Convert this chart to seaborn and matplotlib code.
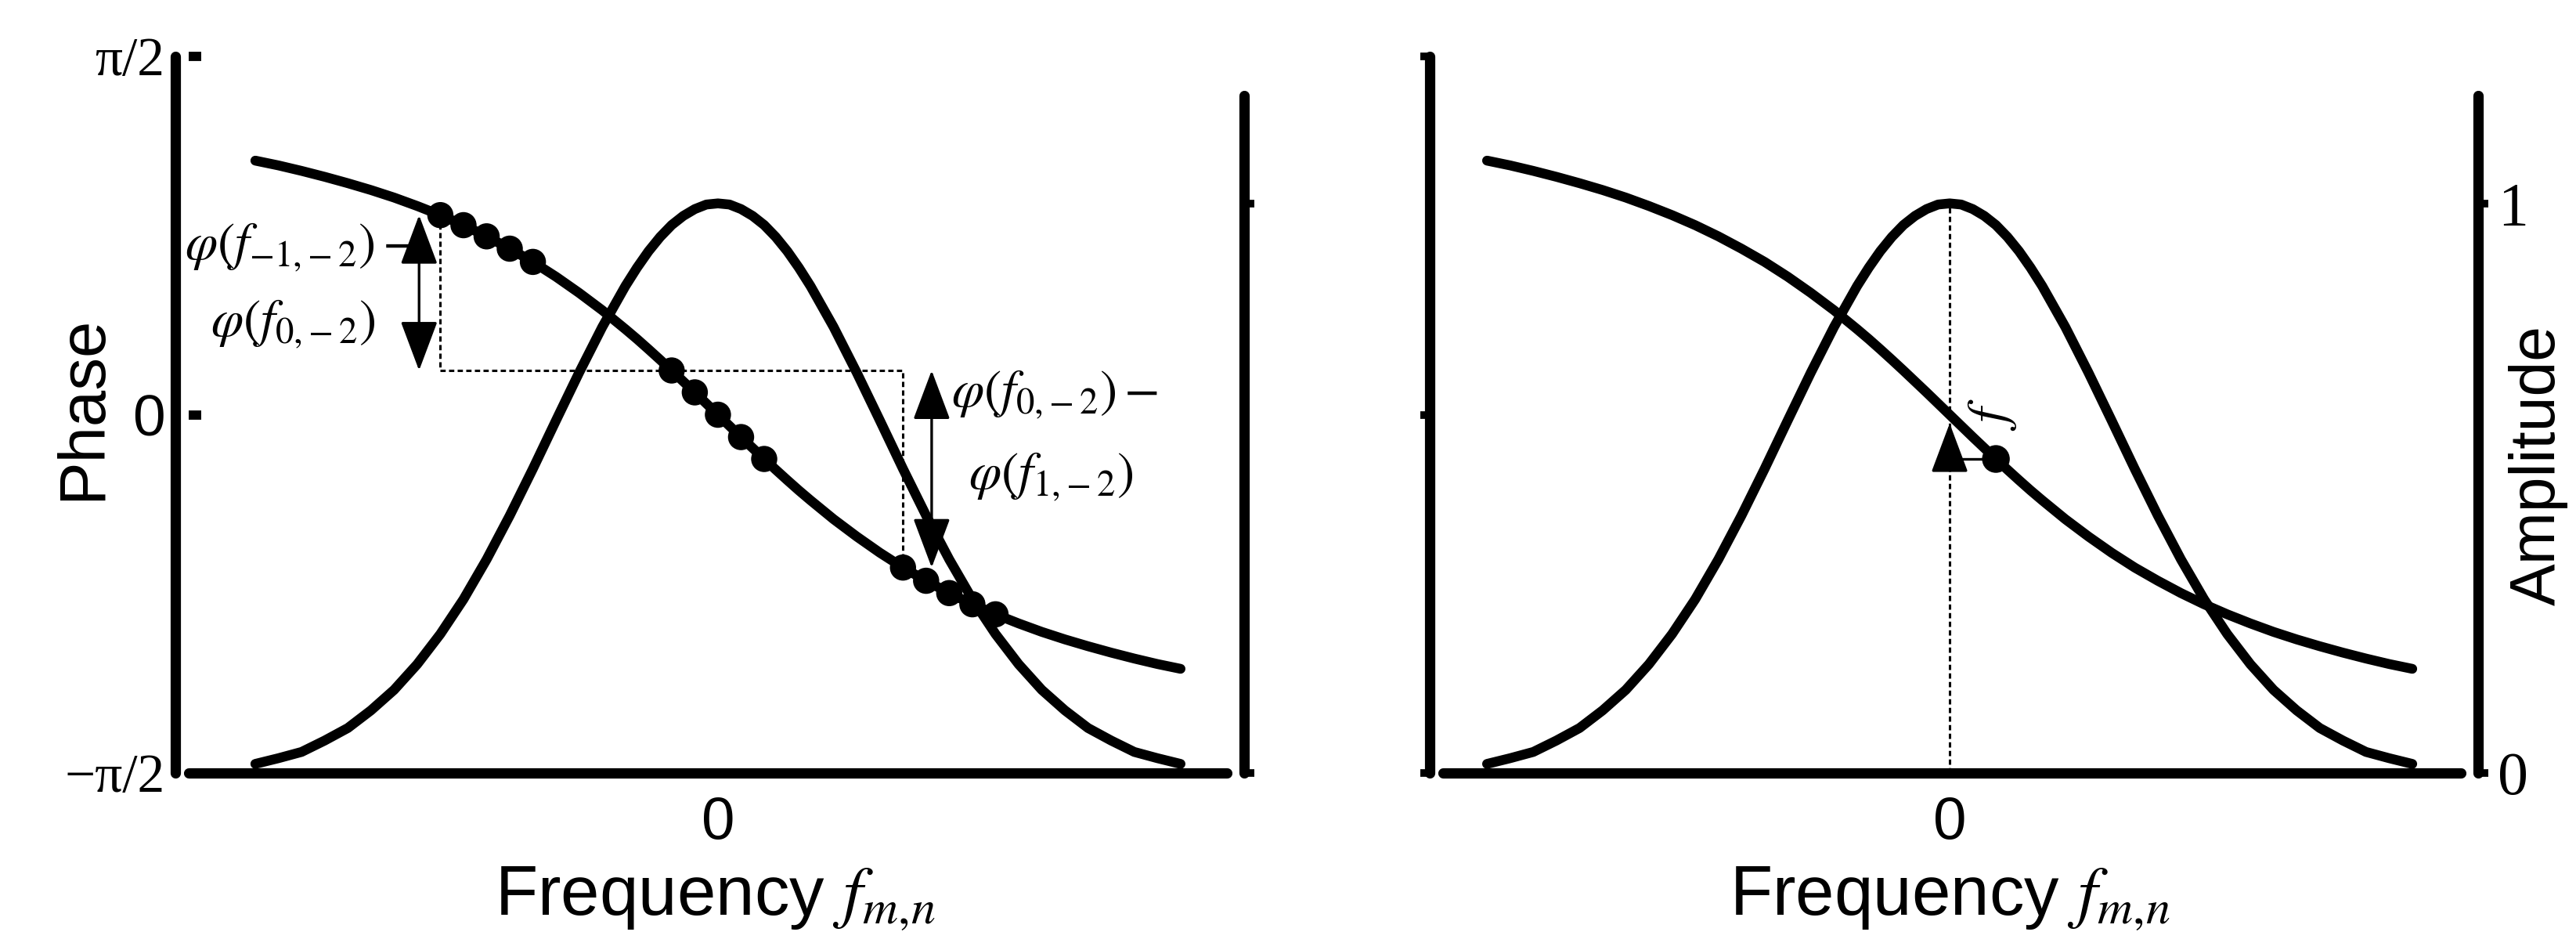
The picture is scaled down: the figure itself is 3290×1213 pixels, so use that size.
import numpy as np
import pandas as pd
import seaborn as sns
import matplotlib.pyplot as plt

sns.set_style('white')
plt.rcParams['font.family'] = ['Liberation Sans', 'DejaVu Sans']
plt.rcParams['mathtext.fontset'] = 'stix'
for key in ['text.color', 'axes.labelcolor', 'axes.edgecolor', 'xtick.color', 'ytick.color']:
    plt.rcParams[key] = 'black'

# curves, frequency in units of the curve half-span
freq = [-1.0, -0.95, -0.9, -0.85, -0.8, -0.75, -0.7, -0.65, -0.6, -0.55, -0.5, -0.45,
        -0.4, -0.35, -0.3, -0.25, -0.2, -0.175, -0.15, -0.125, -0.1, -0.075, -0.05, -0.025,
        0.0,
        0.025, 0.05, 0.075, 0.1, 0.125, 0.15, 0.175, 0.2, 0.25, 0.3, 0.35, 0.4,
        0.45, 0.5, 0.55, 0.6, 0.65, 0.7, 0.75, 0.8, 0.85, 0.9, 0.95, 1.0]
phase = [1.114, 1.093, 1.069, 1.043, 1.015, 0.985, 0.952, 0.915, 0.875, 0.831, 0.782, 0.728,
         0.670, 0.605, 0.534, 0.458, 0.375, 0.332, 0.287, 0.241, 0.194, 0.146, 0.098, 0.049,
         0.0,
         -0.049, -0.098, -0.146, -0.194, -0.241, -0.287, -0.332, -0.375, -0.458, -0.534, -0.605, -0.670,
         -0.728, -0.782, -0.831, -0.875, -0.915, -0.952, -0.985, -1.015, -1.043, -1.069, -1.093, -1.114]
amplitude = [0.016, 0.026, 0.037, 0.057, 0.079, 0.110, 0.146, 0.191, 0.244, 0.305, 0.375, 0.452,
             0.534, 0.619, 0.703, 0.783, 0.855, 0.887, 0.916, 0.941, 0.962, 0.978, 0.990, 0.998,
             1.0,
             0.998, 0.990, 0.978, 0.962, 0.941, 0.916, 0.887, 0.855, 0.783, 0.703, 0.619, 0.534,
             0.452, 0.375, 0.305, 0.244, 0.191, 0.146, 0.110, 0.079, 0.057, 0.037, 0.026, 0.016]

# sampled points on the phase curve (left panel)
dot_freq = [-0.6, -0.55, -0.5, -0.45, -0.4, -0.1, -0.05, 0.0, 0.05, 0.1, 0.4, 0.45, 0.5, 0.55, 0.6]
dot_phase = [0.875, 0.831, 0.782, 0.728, 0.670, 0.194, 0.098, 0.0, -0.098, -0.194,
             -0.670, -0.728, -0.782, -0.831, -0.875]

# dotted staircase between the groups
step_freq = [-0.6, -0.6, 0.4, 0.4]
step_phase = [0.875, 0.194, 0.194, -0.670]

# double arrows
arrow_freq = [-0.646, 0.462]
arrow_top = [0.875, 0.194]
arrow_bottom = [0.194, -0.670]

text_left = [r'$\varphi(f_{-1,\!-2})\,{-}$', r'$\varphi(f_{0,\!-2})$']
text_right = [r'$\varphi(f_{0,\!-2})\,{-}$', r'$\varphi(f_{1,\!-2})$']

# single sample in the right panel
mark_freq = 0.1
mark_phase = -0.194
mark_tip = -0.038

phase_ticks = [-np.pi / 2, 0, np.pi / 2]
phase_ticklabels = ['\u2212\u03c0/2', '0', '\u03c0/2']
amp_ticks = [0, 1]
amp_ticklabels = ['0', '1']

fig = plt.figure(figsize=(32.9, 12.13), dpi=100)

LW = 9
SPINE = 9.5
DOT = (0, (2.2, 1.4))


def panel(rect, xlim, left_offset, label_left, label_right):
    ax = fig.add_axes(rect)
    ax2 = ax.twinx()
    ax.set_xlim(xlim)
    ax.set_ylim(-np.pi / 2, np.pi / 2)
    ax2.set_ylim(0, 1.258)

    sns.lineplot(x=freq, y=phase, ax=ax, color='k', lw=LW, estimator=None,
                 sort=False, solid_capstyle='round')
    sns.lineplot(x=freq, y=amplitude, ax=ax2, color='k', lw=LW, estimator=None,
                 sort=False, solid_capstyle='round')

    for sp in list(ax.spines.values()) + list(ax2.spines.values()):
        sp.set_linewidth(SPINE)
        sp.set_capstyle('round')
        sp.set_color('k')
    ax.spines['top'].set_visible(False)
    ax.spines['right'].set_visible(False)
    for s in ['top', 'left', 'bottom']:
        ax2.spines[s].set_visible(False)

    ax.set_xticks([0])
    ax.set_xticklabels(['0'])
    ax.tick_params(axis='x', direction='out', length=8, width=6, pad=13, labelsize=55)
    ax.set_xlabel(r'Frequency $f_{m,\!n}$', fontsize=64)

    ax.set_yticks(phase_ticks)
    ax2.set_yticks(amp_ticks)
    ax2.spines['right'].set_position(('outward', 16))
    ax2.spines['right'].set_bounds(0, 1.19)
    ax2.tick_params(axis='y', direction='out', length=9, width=7, pad=9,
                    labelsize=56, labelright=label_right)
    if label_right:
        ax2.set_yticklabels(amp_ticklabels, fontfamily='Liberation Serif')
        ax2.set_ylabel('Amplitude', fontsize=58)
        ax2.yaxis.set_label_coords(1.047, 0.43)

    if label_left:
        ax.spines['left'].set_visible(False)
        ax.plot([-left_offset, -left_offset], [0, 1], transform=ax.transAxes,
                clip_on=False, color='k', lw=SPINE, solid_capstyle='round')
        ax.tick_params(axis='y', direction='in', length=11.5, width=8.5, pad=22)
        ax.set_yticklabels(phase_ticklabels)
        for lbl in ax.get_yticklabels():
            if '\u03c0' in lbl.get_text():
                lbl.set_fontfamily('Liberation Serif')
                lbl.set_fontsize(50)
            else:
                lbl.set_fontsize(54)
        ax.set_ylabel('Phase', fontsize=60)
        ax.yaxis.set_label_coords(-0.072, 0.51)
    else:
        ax.spines['left'].set_position(('outward', 12.5))
        ax.tick_params(axis='y', direction='out', length=9, width=7, labelleft=False)
        ax.set_ylabel('')
    return ax, ax2


axL, axL2 = panel([0.07325, 0.1863, 0.4030, 0.7543], (-1.144, 1.100), 0.0128, True, False)
axR, axR2 = panel([0.5602, 0.1863, 0.3951, 0.7543], (-1.095, 1.105), 0.0138, False, True)
axL.xaxis.set_label_coords(0.507, -0.128)
axR.xaxis.set_label_coords(0.498, -0.128)

# left panel: samples, staircase, arrows and labels
axL.plot(step_freq, step_phase, color='k', lw=2.2, ls=DOT, zorder=2)
sns.scatterplot(x=dot_freq, y=dot_phase, ax=axL, s=580, color='k', edgecolor='none', zorder=4)
for xa, yt, yb in zip(arrow_freq, arrow_top, arrow_bottom):
    axL.annotate('', xy=(xa, yt), xytext=(xa, yb),
                 arrowprops=dict(arrowstyle='<|-|>,head_length=0.8,head_width=0.3',
                                 mutation_scale=50, lw=2.4, color='k',
                                 shrinkA=0, shrinkB=0))
axL.text(-0.903, 0.734, text_left[0], fontsize=48, ha='center', va='center')
axL.text(-0.918, 0.398, text_left[1], fontsize=48, ha='center', va='center')
axL.text(0.728, 0.0875, text_right[0], fontsize=48, ha='center', va='center')
axL.text(0.721, -0.271, text_right[1], fontsize=48, ha='center', va='center')

# right panel: peak line and the single sample
peak = amplitude[freq.index(0.0)]
axR2.plot([0, 0], [0, peak], color='k', lw=2.2, ls=DOT)
sns.scatterplot(x=[mark_freq], y=[mark_phase], ax=axR, s=650, color='k', edgecolor='none', zorder=4)
axR.annotate('', xy=(0, mark_tip), xytext=(mark_freq, mark_phase),
             arrowprops=dict(arrowstyle='-|>,head_length=0.8,head_width=0.3',
                             mutation_scale=50, lw=2.4, color='k', shrinkA=0, shrinkB=0,
                             connectionstyle='angle,angleA=180,angleB=90,rad=0'))
axR.text(0.092, 0.0, r'$f$', fontsize=50, rotation=90, ha='center', va='center')

fig.savefig('out.png', dpi=100)
